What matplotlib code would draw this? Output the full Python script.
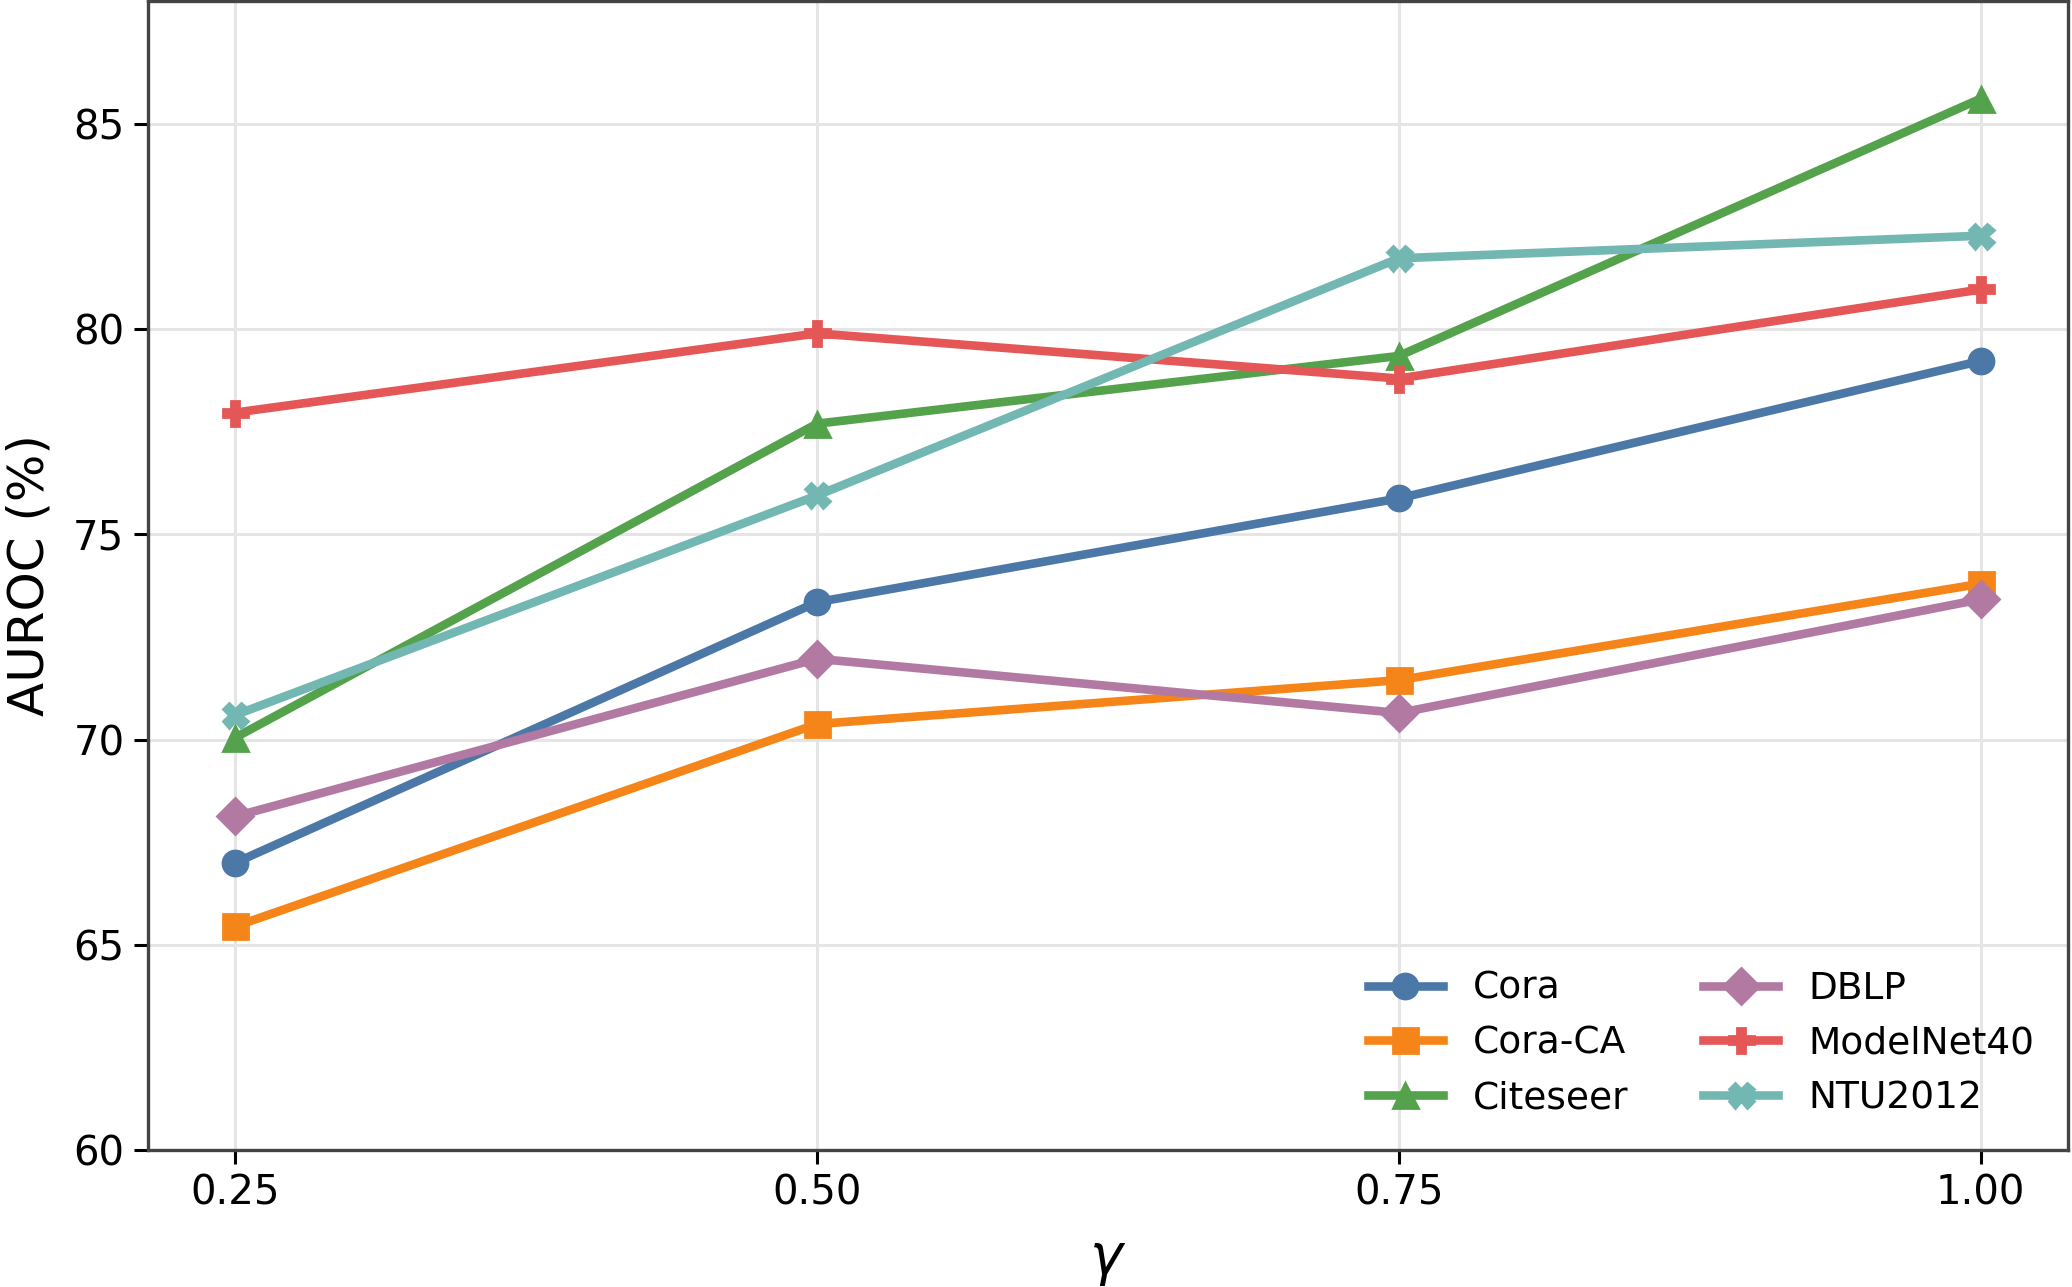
import matplotlib
matplotlib.use("Agg")
import matplotlib.pyplot as plt

gamma = [0.25, 0.50, 0.75, 1.00]
xtick_labels = ["0.25", "0.50", "0.75", "1.00"]
yticks = [60, 65, 70, 75, 80, 85]

names = ["Cora", "Cora-CA", "Citeseer", "DBLP", "ModelNet40", "NTU2012"]
cora = [67.0, 73.35, 75.88, 79.23]
cora_ca = [65.45, 70.38, 71.45, 73.8]
citeseer = [70.05, 77.7, 79.35, 85.62]
dblp = [68.13, 71.97, 70.65, 73.42]
modelnet40 = [77.97, 79.9, 78.8, 80.97]
ntu2012 = [70.6, 75.95, 81.73, 82.28]
series = [cora, cora_ca, citeseer, dblp, modelnet40, ntu2012]

colors = ["#4c78a8", "#f58518", "#54a24b", "#b279a2", "#e45756", "#72b7b2"]
markers = ["o", "s", "^", "D", "P", "X"]

W, H, DPI = 2072, 1287, 200
fig = plt.figure(figsize=(W / DPI, H / DPI), dpi=DPI)
ax = fig.add_axes([148 / W, 1 - 1150 / H, (2068 - 148) / W, (1150 - 1) / H])

for name, vals, c, m in zip(names, series, colors, markers):
    ax.plot(gamma, vals, color=c, marker=m, markersize=9, linewidth=3.1,
            label=name, zorder=3)

ax.set_ylim(60, 88)
ax.set_yticks(yticks)
ax.set_xticks(gamma)
ax.set_xticklabels(xtick_labels)
ax.grid(True, color="#e5e5e5", linewidth=1.1, zorder=0)
ax.set_axisbelow(True)
for s in ax.spines.values():
    s.set_color("#444444")
    s.set_linewidth(1.2)
ax.tick_params(axis="both", labelsize=14.5, length=5, width=1.1, color="black")
ax.set_ylabel("AUROC (%)", fontsize=18, labelpad=7)
ax.set_xlabel(r"$\gamma$", fontsize=20, labelpad=7.5)

ax.legend(loc="lower right", ncol=2, frameon=False, fontsize=13.5)

fig.savefig("out.png", dpi=DPI)
